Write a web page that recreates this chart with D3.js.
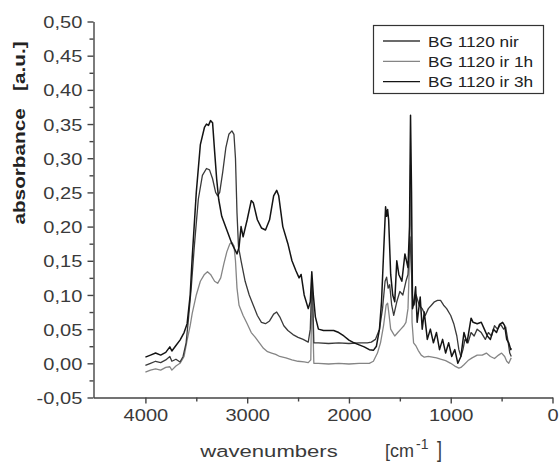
<!DOCTYPE html>
<html><head><meta charset="utf-8">
<script src="https://cdn.jsdelivr.net/npm/d3@7"></script>
<style>body{margin:0;background:#fff}svg{display:block}text{font-family:"Liberation Sans",Arial,sans-serif}</style>
</head><body><svg id="c" width="560" height="463"></svg>
<script>
const seriesNames = ["BG 1120 nir", "BG 1120 ir 1h", "BG 1120 ir 3h"];
const seriesColors = ["#3a3a3a", "#858585", "#141414"];
const xTickValues = [4000, 3000, 2000, 1000, 0];
const xMinorValues = [3500, 2500, 1500, 500];
const yTickValues = [-0.05, 0, 0.05, 0.10, 0.15, 0.20, 0.25, 0.30, 0.35, 0.40, 0.45, 0.50];
const yMinorValues = [-0.025, 0.025, 0.075, 0.125, 0.175, 0.225, 0.275, 0.325, 0.375, 0.425, 0.475];

// [wavenumber, absorbance]
const nirPoints = [
[4000,-0.003],[3950,0.0],[3900,0.003],[3850,0.001],[3800,0.005],[3760,0.01],[3740,0.003],[3700,0.006],[3660,0.002],[3630,0.01],
[3600,0.03],[3580,0.06],[3550,0.11],[3520,0.17],[3480,0.24],[3440,0.275],[3400,0.285],[3370,0.283],[3340,0.27],[3310,0.25],
[3290,0.245],[3270,0.25],[3240,0.28],[3210,0.315],[3180,0.335],[3150,0.34],[3130,0.335],[3115,0.3],[3100,0.22],[3085,0.17],
[3060,0.15],[3020,0.12],[2980,0.1],[2940,0.085],[2900,0.07],[2860,0.06],[2820,0.058],[2780,0.062],[2740,0.072],[2710,0.075],
[2680,0.068],[2640,0.055],[2600,0.048],[2550,0.042],[2500,0.038],[2450,0.035],[2400,0.031],[2380,0.05],[2365,0.12],[2355,0.09],
[2345,0.03],[2300,0.03],[2200,0.029],[2100,0.03],[2000,0.029],[1900,0.03],[1820,0.03],[1780,0.031],[1740,0.035],[1700,0.05],
[1670,0.08],[1645,0.12],[1630,0.126],[1615,0.11],[1600,0.115],[1580,0.085],[1560,0.07],[1530,0.09],[1500,0.105],[1470,0.1],
[1440,0.12],[1420,0.13],[1400,0.185],[1390,0.15],[1375,0.095],[1360,0.085],[1340,0.1],[1310,0.085],[1280,0.08],[1250,0.07],
[1220,0.08],[1190,0.085],[1160,0.09],[1130,0.092],[1100,0.092],[1070,0.085],[1040,0.08],[1000,0.07],[970,0.058],[940,0.04],
[920,0.02],[900,0.01],[880,0.02],[860,0.035],[830,0.03],[800,0.045],[770,0.04],[740,0.05],[700,0.045],[660,0.035],
[630,0.045],[600,0.04],[570,0.055],[540,0.05],[510,0.057],[480,0.05],[460,0.053],[440,0.035],[420,0.015],[405,0.01]
];
const ir1hPoints = [
[4000,-0.013],[3950,-0.01],[3900,-0.008],[3850,-0.01],[3800,-0.006],[3760,-0.005],[3740,-0.01],[3700,-0.004],[3660,0.0],[3620,0.01],
[3590,0.034],[3560,0.055],[3540,0.073],[3500,0.1],[3460,0.12],[3420,0.13],[3390,0.134],[3360,0.13],[3320,0.12],[3290,0.117],
[3260,0.125],[3230,0.145],[3200,0.163],[3170,0.175],[3150,0.177],[3130,0.172],[3115,0.15],[3100,0.11],[3080,0.085],[3040,0.07],
[3000,0.058],[2960,0.045],[2920,0.038],[2880,0.03],[2840,0.022],[2800,0.017],[2760,0.015],[2720,0.013],[2680,0.01],[2620,0.008],
[2560,0.005],[2500,0.003],[2440,0.002],[2400,0.001],[2375,0.005],[2365,0.1],[2355,0.06],[2345,0.0],[2300,0.0],[2200,-0.001],
[2100,0.0],[2000,-0.001],[1900,0.0],[1800,0.0],[1760,0.003],[1720,0.015],[1690,0.03],[1660,0.055],[1635,0.085],[1620,0.088],
[1605,0.07],[1590,0.05],[1570,0.045],[1550,0.04],[1520,0.045],[1490,0.05],[1460,0.055],[1440,0.06],[1420,0.08],[1405,0.15],
[1395,0.29],[1388,0.2],[1380,0.06],[1365,0.03],[1340,0.025],[1320,0.019],[1290,0.012],[1260,0.009],[1220,0.01],[1180,0.009],
[1140,0.008],[1100,0.006],[1050,0.004],[1000,0.0],[960,-0.004],[920,-0.007],[900,-0.006],[870,-0.002],[830,0.004],[790,0.008],
[740,0.012],[690,0.012],[650,0.015],[610,0.01],[570,0.007],[530,0.012],[500,0.015],[470,0.01],[450,0.003],[430,0.0],
[415,0.005],[405,0.008]
];
const ir3hPoints = [
[4000,0.009],[3950,0.012],[3900,0.015],[3850,0.012],[3800,0.016],[3760,0.024],[3740,0.018],[3700,0.026],[3660,0.034],[3620,0.045],
[3590,0.058],[3560,0.1],[3540,0.155],[3500,0.25],[3460,0.32],[3420,0.345],[3400,0.35],[3380,0.348],[3360,0.355],[3340,0.352],
[3320,0.31],[3300,0.27],[3280,0.24],[3250,0.215],[3200,0.195],[3150,0.175],[3100,0.16],[3080,0.17],[3060,0.2],[3040,0.185],
[3000,0.21],[2960,0.238],[2940,0.235],[2900,0.21],[2860,0.198],[2820,0.195],[2780,0.21],[2740,0.245],[2710,0.253],[2690,0.245],
[2650,0.2],[2600,0.175],[2560,0.15],[2520,0.135],[2490,0.125],[2470,0.13],[2440,0.1],[2400,0.08],[2380,0.09],[2365,0.134],
[2350,0.1],[2330,0.068],[2300,0.05],[2250,0.048],[2200,0.048],[2150,0.048],[2100,0.045],[2050,0.04],[2000,0.034],[1950,0.03],
[1900,0.027],[1850,0.024],[1800,0.02],[1760,0.019],[1730,0.025],[1700,0.05],[1680,0.09],[1660,0.16],[1640,0.229],[1630,0.215],
[1620,0.225],[1610,0.21],[1590,0.13],[1570,0.1],[1550,0.09],[1530,0.15],[1510,0.13],[1480,0.12],[1450,0.16],[1420,0.14],
[1405,0.2],[1395,0.363],[1385,0.25],[1375,0.08],[1360,0.09],[1345,0.112],[1330,0.06],[1300,0.097],[1280,0.05],[1260,0.075],
[1230,0.035],[1200,0.05],[1170,0.03],[1140,0.045],[1110,0.02],[1080,0.035],[1050,0.015],[1020,0.03],[990,0.01],[960,0.02],
[930,0.0],[900,0.01],[870,0.045],[840,0.03],[800,0.066],[780,0.06],[740,0.058],[700,0.06],[670,0.05],[640,0.04],
[610,0.035],[580,0.05],[550,0.045],[520,0.057],[490,0.06],[470,0.055],[450,0.035],[430,0.03],[410,0.02],[405,0.022]
];
const seriesData = [nirPoints, ir1hPoints, ir3hPoints];

const svg = d3.select("#c");
const x = d3.scaleLinear().domain([4510, 0]).range([93.5, 552.5]);
const y = d3.scaleLinear().domain([-0.05, 0.5]).range([397.5, 21.5]);
const axisColor = "#444";
const labelColor = "#3a3a3a";
const fmt = v => { const r = Math.round(v * 100) / 100; return (r < 0 ? "-" : "") + Math.abs(r).toFixed(2).replace(".", ","); };

// lines (gray first, then others)
const line = d3.line().x(d => x(d[0])).y(d => y(d[1]));
[1, 0, 2].forEach(i => {
  svg.append("path").datum(seriesData[i]).attr("fill", "none")
    .attr("stroke", seriesColors[i]).attr("stroke-width", i === 2 ? 1.5 : 1.3)
    .attr("stroke-linejoin", "round").attr("d", line);
});

// y axis
const gy = svg.append("g").attr("transform", "translate(93.5,0)")
  .call(d3.axisLeft(y).tickValues(yTickValues).tickSize(6).tickSizeOuter(0).tickFormat(fmt));
gy.append("g").call(d3.axisLeft(y).tickValues(yMinorValues).tickSize(4).tickFormat(""))
  .select(".domain").remove();
gy.selectAll("path,line").attr("stroke", axisColor).attr("stroke-width", 1.4);
gy.selectAll("text").attr("font-size", 17).attr("fill", labelColor)
  .attr("x", -9.5).attr("transform", "scale(1.18,1)").attr("dy", "0.36em");

// x axis
const gx = svg.append("g").attr("transform", "translate(0,397.5)")
  .call(d3.axisBottom(x).tickValues(xTickValues).tickSize(6).tickSizeOuter(0).tickFormat(d3.format("d")));
gx.append("g").call(d3.axisBottom(x).tickValues(xMinorValues).tickSize(4).tickFormat(""))
  .select(".domain").remove();
gx.selectAll("path,line").attr("stroke", axisColor).attr("stroke-width", 1.4);
gx.selectAll("text").attr("font-size", 17).attr("fill", labelColor)
  .attr("y", 11).attr("transform", "scale(1.18,1)");

// axis titles
svg.append("g").attr("transform", "translate(25,133) rotate(-90) scale(1.22,1)")
  .append("text").attr("text-anchor", "middle").attr("font-size", 17).attr("font-weight", "bold")
  .attr("fill", "#222").style("white-space", "pre").text("absorbance   [a.u.]");

svg.append("g").attr("transform", "translate(269,457) scale(1.3,1)")
  .append("text").attr("text-anchor", "middle").attr("font-size", 17).attr("fill", labelColor)
  .text("wavenumbers");
svg.append("text").attr("x", 385).attr("y", 457).attr("font-size", 18).attr("fill", labelColor).text("[cm");
svg.append("text").attr("x", 416).attr("y", 449).attr("font-size", 14).attr("fill", labelColor).text("-1");
svg.append("g").attr("transform", "translate(437,457) scale(1,1.25)")
  .append("text").attr("font-size", 18).attr("fill", labelColor).text("]");

// legend
const lg = svg.append("g");
lg.append("rect").attr("x", 373.5).attr("y", 25.5).attr("width", 170).attr("height", 68)
  .attr("fill", "#fff").attr("stroke", "#333").attr("stroke-width", 1.2);
seriesNames.forEach((name, i) => {
  const cy = 41 + i * 20.3;
  lg.append("line").attr("x1", 383).attr("x2", 420).attr("y1", cy).attr("y2", cy)
    .attr("stroke", seriesColors[i]).attr("stroke-width", 1.3);
  lg.append("g").attr("transform", `translate(428,${cy + 5.5}) scale(1.15,1)`)
    .append("text").attr("font-size", 15).attr("fill", "#222").text(name);
});
</script></body></html>
